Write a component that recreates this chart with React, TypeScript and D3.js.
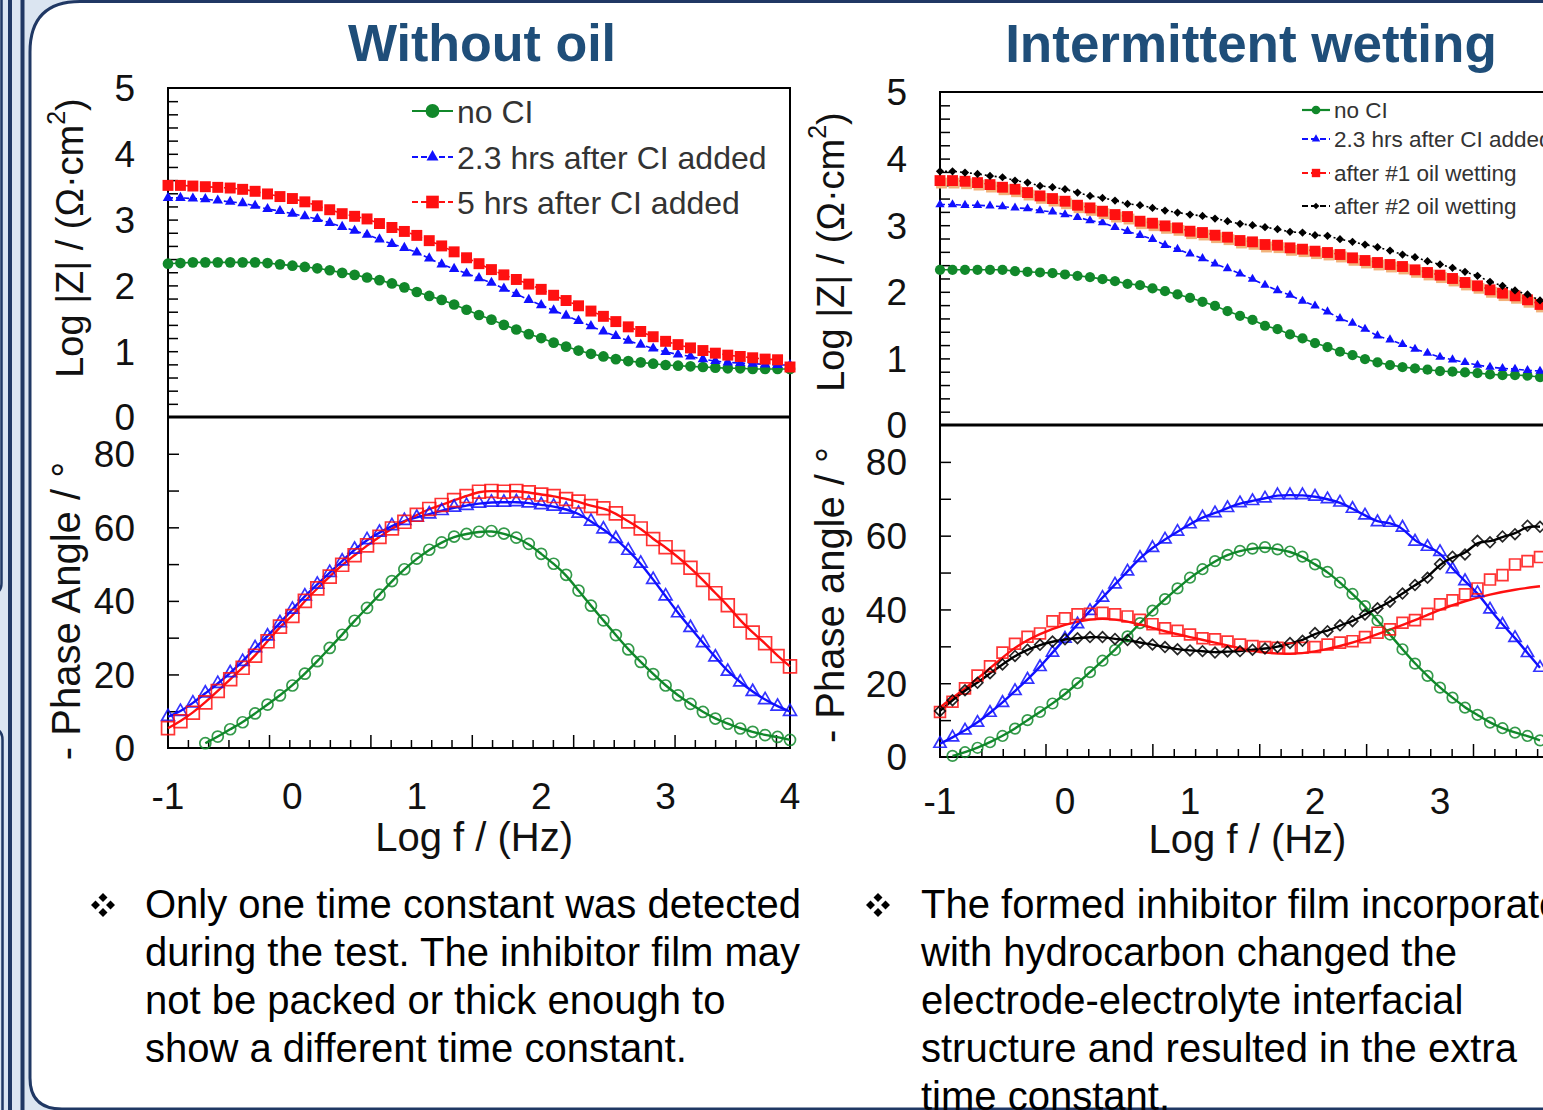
import React, { useEffect, useRef } from "react";
import * as d3 from "d3";

const W = 1543;
const H = 1110;
const NAVY = "#203864";
const SKY = "#dbe5f1";
const TITLE_BLUE = "#1f4e79";
const FONT = "'Liberation Sans', Arial, sans-serif";
const GREEN = "#11882a";
const BLUE = "#1010ff";
const RED = "#ff1010";
const BLACK = "#000000";

// log10 of the measurement frequency
const LOG_F = [
    -1.0, -0.9, -0.8, -0.7, -0.6, -0.5, -0.4, -0.3, -0.2, -0.1,
    0.0, 0.1, 0.2, 0.3, 0.4, 0.5, 0.6, 0.7, 0.8, 0.9,
    1.0, 1.1, 1.2, 1.3, 1.4, 1.5, 1.6, 1.7, 1.8, 1.9,
    2.0, 2.1, 2.2, 2.3, 2.4, 2.5, 2.6, 2.7, 2.8, 2.9,
    3.0, 3.1, 3.2, 3.3, 3.4, 3.5, 3.6, 3.7, 3.8, 3.9, 4.0,
];

// ---- Without oil: Log |Z|
const WO_Z_NOCI = [
    2.33, 2.34, 2.35, 2.35, 2.35, 2.35, 2.35, 2.35, 2.34, 2.32,
    2.30, 2.28, 2.26, 2.23, 2.19, 2.16, 2.12, 2.08, 2.03, 1.97,
    1.90, 1.84, 1.78, 1.71, 1.63, 1.55, 1.48, 1.40, 1.33, 1.26,
    1.20, 1.13, 1.07, 1.01, 0.96, 0.92, 0.88, 0.85, 0.83, 0.81,
    0.79, 0.78, 0.77, 0.76, 0.75, 0.74, 0.74, 0.73, 0.73, 0.73, 0.73,
];
const WO_Z_23H = [
    3.33, 3.33, 3.32, 3.31, 3.29, 3.27, 3.25, 3.21, 3.16, 3.13,
    3.09, 3.05, 3.01, 2.95, 2.89, 2.83, 2.77, 2.70, 2.63, 2.57,
    2.50, 2.41, 2.32, 2.25, 2.18, 2.11, 2.04, 1.95, 1.87, 1.78,
    1.70, 1.62, 1.54, 1.46, 1.38, 1.30, 1.23, 1.16, 1.10, 1.04,
    0.99, 0.95, 0.92, 0.88, 0.85, 0.83, 0.82, 0.81, 0.80, 0.79, 0.79,
];
const WO_Z_5H = [
    3.52, 3.52, 3.51, 3.50, 3.49, 3.48, 3.46, 3.43, 3.39, 3.35,
    3.32, 3.27, 3.21, 3.15, 3.09, 3.05, 3.01, 2.94, 2.88, 2.82,
    2.76, 2.68, 2.60, 2.51, 2.42, 2.33, 2.24, 2.16, 2.09, 2.02,
    1.94, 1.85, 1.77, 1.69, 1.61, 1.53, 1.45, 1.37, 1.30, 1.22,
    1.15, 1.10, 1.05, 1.01, 0.97, 0.94, 0.92, 0.90, 0.88, 0.87, 0.76,
];

// ---- Without oil: - phase angle
const WO_P_NOCI = [
    null, null, null, 1.3, 3.1, 5.1, 7.0, 9.4, 11.8, 14.3,
    17.0, 20.2, 23.6, 27.2, 30.8, 34.6, 38.1, 41.7, 45.4, 48.6,
    51.5, 53.9, 55.9, 57.5, 58.2, 58.8, 59.0, 58.3, 57.2, 55.5,
    52.8, 50.1, 47.1, 42.8, 38.7, 34.7, 30.7, 26.8, 23.4, 20.1,
    17.0, 14.3, 12.0, 9.8, 8.0, 6.6, 5.3, 4.4, 3.5, 3.0, 2.2,
];
const WO_P_23H = [
    8.5, 9.9, 12.2, 14.9, 17.5, 20.4, 23.5, 27.2, 30.4, 34.0,
    37.7, 41.3, 44.5, 47.7, 50.8, 54.0, 56.6, 58.6, 60.4, 61.8,
    62.7, 63.6, 64.5, 65.4, 65.9, 66.5, 66.8, 66.8, 66.9, 66.6,
    66.1, 65.7, 64.9, 63.8, 61.6, 59.5, 56.9, 53.7, 50.2, 45.8,
    41.3, 36.7, 32.7, 28.6, 24.7, 20.8, 17.9, 15.3, 13.1, 11.3, 9.9,
];
const WO_P_5H = [
    5.4, 7.3, 9.6, 12.4, 15.5, 18.7, 21.8, 25.1, 29.0, 33.0,
    35.9, 40.0, 43.4, 46.6, 49.8, 52.4, 55.1, 57.4, 59.7, 61.5,
    63.4, 65.0, 66.1, 67.4, 68.5, 69.7, 69.9, 69.7, 69.9, 69.5,
    68.9, 68.5, 67.7, 67.0, 65.8, 65.2, 63.8, 61.6, 59.7, 56.8,
    54.6, 51.9, 49.0, 45.7, 42.1, 38.8, 34.6, 31.4, 28.5, 25.0, 22.2,
];

// ---- Intermittent wetting: Log |Z|  (log f -1 .. 3.8)
const IW_Z_NOCI = [
    2.33, 2.33, 2.33, 2.33, 2.33, 2.33, 2.31, 2.30, 2.29, 2.28,
    2.26, 2.24, 2.22, 2.19, 2.16, 2.12, 2.10, 2.05, 2.01, 1.96,
    1.91, 1.85, 1.79, 1.71, 1.64, 1.58, 1.49, 1.44, 1.36, 1.30,
    1.23, 1.17, 1.10, 1.05, 0.99, 0.94, 0.90, 0.87, 0.85, 0.83,
    0.81, 0.80, 0.79, 0.78, 0.76, 0.75, 0.75, 0.74, 0.72,
];
const IW_Z_23H = [
    3.31, 3.31, 3.30, 3.30, 3.29, 3.28, 3.26, 3.25, 3.22, 3.20,
    3.16, 3.12, 3.07, 3.04, 2.97, 2.91, 2.85, 2.79, 2.70, 2.64,
    2.57, 2.50, 2.42, 2.35, 2.27, 2.19, 2.10, 2.02, 1.95, 1.86,
    1.79, 1.70, 1.60, 1.53, 1.44, 1.34, 1.28, 1.21, 1.14, 1.08,
    1.02, 0.98, 0.94, 0.90, 0.87, 0.85, 0.84, 0.82, 0.81,
];
const IW_Z_OIL1 = [
    3.67, 3.67, 3.66, 3.64, 3.61, 3.57, 3.54, 3.49, 3.44, 3.40,
    3.36, 3.30, 3.26, 3.21, 3.16, 3.13, 3.06, 3.03, 2.99, 2.96,
    2.91, 2.89, 2.85, 2.82, 2.77, 2.75, 2.71, 2.70, 2.66, 2.64,
    2.61, 2.59, 2.56, 2.51, 2.47, 2.44, 2.41, 2.38, 2.33, 2.29,
    2.25, 2.20, 2.14, 2.09, 2.03, 1.98, 1.94, 1.88, 1.81,
];
const IW_Z_OIL2 = [
    3.81, 3.81, 3.79, 3.77, 3.74, 3.72, 3.67, 3.64, 3.59, 3.57,
    3.54, 3.49, 3.44, 3.41, 3.37, 3.32, 3.30, 3.26, 3.22, 3.19,
    3.16, 3.14, 3.10, 3.06, 3.02, 3.00, 2.97, 2.94, 2.90, 2.89,
    2.85, 2.84, 2.79, 2.75, 2.71, 2.67, 2.62, 2.56, 2.52, 2.46,
    2.41, 2.36, 2.30, 2.24, 2.15, 2.09, 2.02, 1.96, 1.87,
];

// ---- Intermittent wetting: - phase angle
const IW_P_NOCI = [
    null, 0.3, 1.3, 2.5, 4.0, 5.7, 7.7, 10.0, 12.2, 14.5,
    17.0, 20.0, 23.0, 26.1, 29.0, 32.7, 36.3, 39.7, 42.8, 45.7,
    48.6, 50.9, 53.1, 54.8, 55.9, 56.5, 56.9, 56.3, 55.7, 54.3,
    52.2, 50.2, 47.3, 44.2, 40.9, 37.0, 33.2, 29.2, 25.3, 22.0,
    18.8, 16.1, 13.4, 11.4, 9.3, 7.8, 6.6, 5.7, 4.5,
];
const IW_P_23H = [
    3.6, 5.3, 7.2, 9.3, 12.0, 14.7, 17.9, 21.0, 24.4, 28.3,
    32.1, 36.0, 39.6, 43.2, 46.8, 50.3, 54.0, 56.7, 59.0, 61.1,
    63.1, 65.0, 66.1, 67.5, 68.8, 69.4, 70.1, 71.0, 71.0, 71.0,
    70.6, 69.9, 69.0, 67.3, 65.5, 63.7, 63.5, 62.2, 58.4, 57.0,
    55.6, 50.9, 47.7, 44.5, 40.0, 35.9, 32.3, 28.2, 24.2,
];
const IW_P_OIL1 = [
    12.2, 15.0, 18.6, 22.1, 24.6, 28.3, 30.7, 32.6, 33.5, 36.8,
    37.6, 38.7, 38.8, 39.1, 38.7, 38.1, 37.2, 36.0, 34.9, 34.2,
    33.2, 32.2, 31.9, 31.3, 30.5, 30.1, 29.8, 29.6, 29.4, 29.6,
    29.8, 30.5, 31.0, 31.4, 32.5, 33.7, 34.6, 36.4, 37.1, 38.8,
    41.4, 42.5, 44.1, 45.7, 48.1, 49.3, 52.2, 53.1, 54.2,
];
const IW_P_OIL2 = [
    12.5, 15.4, 18.1, 20.1, 22.7, 25.1, 27.4, 29.1, 30.4, 31.3,
    31.9, 32.2, 32.5, 32.5, 32.0, 31.7, 31.0, 30.5, 29.8, 29.2,
    28.9, 28.7, 28.3, 28.6, 28.7, 29.1, 29.4, 29.8, 30.9, 31.5,
    33.6, 34.1, 35.7, 36.8, 38.6, 40.3, 42.1, 44.3, 46.6, 48.6,
    52.3, 54.3, 54.9, 58.6, 58.2, 59.8, 60.4, 62.7, 62.4,
];
// fitted curve for "after #1 oil wetting" (differs from the points)
const IW_FIT_OIL1_F = [
    -1.0, -0.8, -0.6, -0.4, -0.2, 0.0, 0.2, 0.4, 0.6, 0.8, 1.0, 1.2, 1.4,
    1.6, 1.8, 2.0, 2.2, 2.4, 2.6, 2.8, 3.0, 3.2, 3.4, 3.6, 3.8,
];
const IW_FIT_OIL1 = [
    13.5, 18.5, 24.0, 30.0, 33.5, 36.0, 37.5, 37.5, 36.0, 34.0, 32.5, 31.0, 29.5,
    28.2, 27.8, 28.5, 30.0, 32.0, 34.5, 37.0, 40.0, 42.3, 44.1, 45.4, 46.3,
];

const X_TICK_LABELS = [-1, 0, 1, 2, 3, 4];
const Z_TICK_LABELS = [0, 1, 2, 3, 4, 5];
const P_TICK_LABELS = [0, 20, 40, 60, 80];

const LEFT_TEXT = [
    "Only one time constant was detected",
    "during the test. The inhibitor film may",
    "not be packed or thick enough to",
    "show a different time constant.",
];
const RIGHT_TEXT = [
    "The formed inhibitor film incorporated",
    "with hydrocarbon changed the",
    "electrode-electrolyte interfacial",
    "structure and resulted in the extra",
    "time constant.",
];

type Shape = "circle" | "triangle" | "square" | "diamond";
interface Series {
    label: string;
    v: (number | null)[];
    color: string;
    shape: Shape;
    dash: string | null;
    fit?: { f: number[]; v: number[] };
}

const symbolOf = (shape: Shape, size: number) => {
    const type =
        shape === "circle" ? d3.symbolCircle :
        shape === "triangle" ? d3.symbolTriangle : d3.symbolSquare;
    return d3.symbol().type(type).size(size)() as string;
};

interface PanelCfg {
    title: string;
    titleX: number;
    titleY: number;
    titleSize: number;
    xRange: [number, number];
    zRange: [number, number];
    pRange: [number, number];
    frameRight: number;
    minorStep: number;
    yLabelX: number;
    xLabelY: number;
    xTitleY: number;
    zTitle: [number, number];
    pTitle: [number, number];
    pTitleText: string;
    zSeries: Series[];
    pSeries: Series[];
    zSizes: Record<Shape, number>;
    pSizes: Record<Shape, number>;
    legend: { x0: number; x1: number; textX: number; rows: number[]; font: number; sizes: Record<Shape, number> };
    oilShadow: boolean;
}

const App: React.FC = () => {
    const svgRef = useRef<SVGSVGElement | null>(null);

    useEffect(() => {
        if (!svgRef.current) return;
        const svg = d3.select(svgRef.current);
        svg.selectAll("*").remove();

        // slide background + frame
        svg.append("rect").attr("width", W).attr("height", H).attr("fill", SKY);
        svg.append("rect").attr("x", 8).attr("y", 0).attr("width", 4).attr("height", H).attr("fill", NAVY);
        svg.append("rect").attr("x", 20.5).attr("y", 0).attr("width", 4).attr("height", H).attr("fill", NAVY);
        svg.append("path")
            .attr("d", "M -10 -5 L 1.5 -5 L 1.5 583 Q 1.5 594 -10 594")
            .attr("fill", "none").attr("stroke", NAVY).attr("stroke-width", 2.5);
        svg.append("path")
            .attr("d", "M -10 728 Q 2.5 728 2.5 740 L 2.5 1120")
            .attr("fill", "none").attr("stroke", NAVY).attr("stroke-width", 2.5);
        svg.append("path")
            .attr("d", "M 1600 1.5 L 80 1.5 Q 30 1.5 30 52 L 30 1078 Q 30 1109 62 1109 L 1600 1109 Z")
            .attr("fill", "#ffffff").attr("stroke", NAVY).attr("stroke-width", 3);

        const drawPanel = (c: PanelCfg) => {
            const x = d3.scaleLinear().domain([-1, 4]).range(c.xRange);
            const yZ = d3.scaleLinear().domain([0, 5]).range(c.zRange);
            const yP = d3.scaleLinear().domain([0, 90]).range(c.pRange);
            const left = c.xRange[0];
            const g = svg.append("g");

            g.append("text")
                .attr("x", c.titleX).attr("y", c.titleY)
                .attr("text-anchor", "middle")
                .attr("font-family", FONT).attr("font-weight", "bold")
                .attr("font-size", c.titleSize).attr("fill", TITLE_BLUE)
                .text(c.title);

            // inward y ticks
            const zTicks = d3.range(0.2, 4.9, 0.2);
            g.append("g").attr("transform", `translate(${left},0)`)
                .call(d3.axisRight(yZ).tickValues(zTicks).tickSize(10).tickFormat(() => ""))
                .call(s => s.select(".domain").remove())
                .call(s => s.selectAll("line").attr("stroke-width", 1.5));
            g.append("g").attr("transform", `translate(${left},0)`)
                .call(d3.axisRight(yP).tickValues(d3.range(10, 81, 10)).tickSize(11).tickFormat(() => ""))
                .call(s => s.select(".domain").remove())
                .call(s => s.selectAll("line").attr("stroke-width", 1.5));

            // inward x ticks (minor / major)
            const xt = d3.range(-0.84, 3.95, c.minorStep);
            const major = xt.filter((_, i) => i % 5 === 4);
            const minor = xt.filter((_, i) => i % 5 !== 4);
            g.append("g").attr("transform", `translate(0,${c.pRange[0]})`)
                .call(d3.axisTop(x).tickValues(minor).tickSize(8).tickFormat(() => ""))
                .call(s => s.select(".domain").remove())
                .call(s => s.selectAll("line").attr("stroke-width", 1.5));
            g.append("g").attr("transform", `translate(0,${c.pRange[0]})`)
                .call(d3.axisTop(x).tickValues(major).tickSize(13).tickFormat(() => ""))
                .call(s => s.select(".domain").remove())
                .call(s => s.selectAll("line").attr("stroke-width", 1.5));

            // frame
            const fr = g.append("g").attr("fill", "none").attr("stroke", "#000");
            fr.append("rect")
                .attr("x", left).attr("y", c.zRange[1])
                .attr("width", c.frameRight - left).attr("height", c.pRange[0] - c.zRange[1])
                .attr("stroke-width", 2);
            fr.append("line")
                .attr("x1", left).attr("x2", c.frameRight)
                .attr("y1", c.zRange[0]).attr("y2", c.zRange[0])
                .attr("stroke-width", 3);

            // tick labels
            const lab = g.append("g").attr("font-family", FONT).attr("font-size", 37).attr("fill", "#111");
            Z_TICK_LABELS.forEach(t => lab.append("text")
                .attr("x", c.yLabelX).attr("y", yZ(t)).attr("dy", "0.36em")
                .attr("text-anchor", "end").text(t));
            P_TICK_LABELS.forEach(t => lab.append("text")
                .attr("x", c.yLabelX).attr("y", yP(t)).attr("dy", "0.36em")
                .attr("text-anchor", "end").text(t));
            X_TICK_LABELS.forEach(t => lab.append("text")
                .attr("x", x(t)).attr("y", c.xLabelY)
                .attr("text-anchor", "middle").text(t));

            // axis titles
            g.append("text")
                .attr("x", (c.xRange[0] + x(3.6)) / 2 + 20).attr("y", c.xTitleY)
                .attr("text-anchor", "middle").attr("font-family", FONT)
                .attr("font-size", 40).attr("fill", "#111")
                .text("Log f / (Hz)");
            const zt = g.append("text")
                .attr("transform", `translate(${c.zTitle[0]},${c.zTitle[1]}) rotate(-90)`)
                .attr("text-anchor", "middle").attr("dominant-baseline", "central")
                .attr("font-family", FONT).attr("font-size", 38).attr("fill", "#111");
            zt.append("tspan").text("Log |Z| / (\u03A9\u00B7cm");
            zt.append("tspan").attr("font-size", 25).attr("dy", -14).text("2");
            zt.append("tspan").attr("dy", 14).text(")");
            g.append("text")
                .attr("transform", `translate(${c.pTitle[0]},${c.pTitle[1]}) rotate(-90)`)
                .attr("text-anchor", "middle").attr("dominant-baseline", "central")
                .attr("font-family", FONT).attr("font-size", 40).attr("fill", "#111")
                .text(c.pTitleText);

            const plot = g.append("g");

            // Log |Z| panel: filled markers with thin dashed joins
            c.zSeries.forEach(s => {
                const pts = s.v.map((v, i) => [LOG_F[i], v] as [number, number | null]);
                const line = d3.line<[number, number | null]>()
                    .defined(d => d[1] !== null)
                    .x(d => x(d[0])).y(d => yZ(d[1] as number));
                plot.append("path").datum(pts)
                    .attr("d", line).attr("fill", "none")
                    .attr("stroke", s.color).attr("stroke-width", 1.6)
                    .attr("stroke-dasharray", s.dash ?? null);
                const valid = pts.filter(d => d[1] !== null);
                if (c.oilShadow && s.shape === "square") {
                    plot.selectAll(null).data(valid).enter().append("path")
                        .attr("d", symbolOf("square", c.zSizes.square))
                        .attr("transform", d => `translate(${x(d[0]) + 1.5},${yZ(d[1] as number) + 2.5})`)
                        .attr("fill", "#f2b27a");
                }
                plot.selectAll(null).data(valid).enter().append("path")
                    .attr("d", symbolOf(s.shape, c.zSizes[s.shape]))
                    .attr("transform", d => `translate(${x(d[0])},${yZ(d[1] as number)})${s.shape === "diamond" ? " rotate(45)" : ""}`)
                    .attr("fill", s.color);
            });

            // phase panel: smooth fit lines + open markers
            c.pSeries.forEach(s => {
                const pts = s.v.map((v, i) => [LOG_F[i], v] as [number, number | null])
                    .filter(d => d[1] !== null) as [number, number][];
                const fitPts = s.fit ? s.fit.f.map((f, i) => [f, s.fit!.v[i]] as [number, number]) : pts;
                const line = d3.line<[number, number]>()
                    .curve(d3.curveBasis)
                    .x(d => x(d[0])).y(d => yP(d[1]));
                plot.append("path").datum(fitPts)
                    .attr("d", line).attr("fill", "none")
                    .attr("stroke", s.color).attr("stroke-width", 2.4);
            });
            c.pSeries.forEach(s => {
                const pts = s.v.map((v, i) => [LOG_F[i], v] as [number, number | null])
                    .filter(d => d[1] !== null) as [number, number][];
                plot.selectAll(null).data(pts).enter().append("path")
                    .attr("d", symbolOf(s.shape, c.pSizes[s.shape]))
                    .attr("transform", d => `translate(${x(d[0])},${yP(d[1])})${s.shape === "diamond" ? " rotate(45)" : ""}`)
                    .attr("fill", "none").attr("stroke", s.color)
                    .attr("stroke-opacity", 0.85).attr("stroke-width", 1.7);
            });

            // legend
            const lg = g.append("g");
            c.zSeries.forEach((s, i) => {
                const ly = c.legend.rows[i];
                lg.append("line")
                    .attr("x1", c.legend.x0).attr("x2", c.legend.x1)
                    .attr("y1", ly).attr("y2", ly)
                    .attr("stroke", s.color).attr("stroke-width", 2.2)
                    .attr("stroke-dasharray", s.dash ? "6,3" : null);
                lg.append("path")
                    .attr("d", symbolOf(s.shape, c.legend.sizes[s.shape]))
                    .attr("transform", `translate(${(c.legend.x0 + c.legend.x1) / 2},${ly})${s.shape === "diamond" ? " rotate(45)" : ""}`)
                    .attr("fill", s.color);
                lg.append("text")
                    .attr("x", c.legend.textX).attr("y", ly).attr("dy", "0.36em")
                    .attr("font-family", FONT).attr("font-size", c.legend.font)
                    .attr("fill", "#333").text(s.label);
            });
        };

        drawPanel({
            title: "Without oil",
            titleX: 482, titleY: 61, titleSize: 52,
            xRange: [168, 790],
            zRange: [417, 88],
            pRange: [748, 417],
            frameRight: 790,
            minorStep: 0.163,
            yLabelX: 135,
            xLabelY: 809,
            xTitleY: 851,
            zTitle: [70, 238],
            pTitle: [66, 611],
            pTitleText: "- Phase Angle / \u00B0",
            zSeries: [
                { label: "no CI", v: WO_Z_NOCI, color: GREEN, shape: "circle", dash: null },
                { label: "2.3 hrs after CI added", v: WO_Z_23H, color: BLUE, shape: "triangle", dash: "5,3" },
                { label: "5 hrs after CI added", v: WO_Z_5H, color: RED, shape: "square", dash: "5,3" },
            ],
            pSeries: [
                { label: "no CI", v: WO_P_NOCI, color: GREEN, shape: "circle", dash: null },
                { label: "2.3 hrs", v: WO_P_23H, color: BLUE, shape: "triangle", dash: null },
                { label: "5 hrs", v: WO_P_5H, color: RED, shape: "square", dash: null },
            ],
            zSizes: { circle: 90, triangle: 48, square: 120, diamond: 36 },
            pSizes: { circle: 95, triangle: 72, square: 165, diamond: 64 },
            legend: { x0: 412, x1: 453, textX: 457, rows: [111, 157, 202], font: 32, sizes: { circle: 150, triangle: 62, square: 160, diamond: 40 } },
            oilShadow: false,
        });

        drawPanel({
            title: "Intermittent wetting",
            titleX: 1251, titleY: 62, titleSize: 53,
            xRange: [940, 1565],
            zRange: [425, 92],
            pRange: [757, 425],
            frameRight: 1600,
            minorStep: 0.171,
            yLabelX: 907,
            xLabelY: 814,
            xTitleY: 853,
            zTitle: [831, 252],
            pTitle: [830, 595],
            pTitleText: "- Phase angle / \u00B0",
            zSeries: [
                { label: "no CI", v: IW_Z_NOCI, color: GREEN, shape: "circle", dash: null },
                { label: "2.3 hrs after CI added", v: IW_Z_23H, color: BLUE, shape: "triangle", dash: "5,3" },
                { label: "after #1 oil wetting", v: IW_Z_OIL1, color: RED, shape: "square", dash: "5,3" },
                { label: "after #2 oil wetting", v: IW_Z_OIL2, color: BLACK, shape: "diamond", dash: "2,3" },
            ],
            pSeries: [
                { label: "no CI", v: IW_P_NOCI, color: GREEN, shape: "circle", dash: null },
                { label: "2.3 hrs", v: IW_P_23H, color: BLUE, shape: "triangle", dash: null },
                { label: "oil 1", v: IW_P_OIL1, color: RED, shape: "square", dash: null, fit: { f: IW_FIT_OIL1_F, v: IW_FIT_OIL1 } },
                { label: "oil 2", v: IW_P_OIL2, color: BLACK, shape: "diamond", dash: null },
            ],
            zSizes: { circle: 82, triangle: 38, square: 118, diamond: 34 },
            pSizes: { circle: 87, triangle: 64, square: 118, diamond: 56 },
            legend: { x0: 1302, x1: 1330, textX: 1334, rows: [110, 139, 173, 206], font: 22.5, sizes: { circle: 60, triangle: 30, square: 70, diamond: 22 } },
            oilShadow: true,
        });

        // bullet notes
        const bullet = (cx: number, cy: number) => {
            const b = svg.append("g").attr("fill", "#000");
            [[0, -7.5], [-7.5, 0], [7.5, 0], [0, 7.5]].forEach(([dx, dy]) =>
                b.append("path").attr("d", d3.symbol().type(d3.symbolSquare).size(40)() as string)
                    .attr("transform", `translate(${cx + dx},${cy + dy}) rotate(45)`));
        };
        bullet(103, 905);
        bullet(878, 905);
        const note = (lines: string[], x0: number) => {
            const t = svg.append("g").attr("font-family", FONT).attr("font-size", 40).attr("fill", "#000");
            lines.forEach((l, i) => t.append("text").attr("x", x0).attr("y", 918 + i * 48).text(l));
        };
        note(LEFT_TEXT, 145);
        note(RIGHT_TEXT, 921);
    }, []);

    return (
        <svg
            ref={svgRef}
            width={W}
            height={H}
            style={{ position: "absolute", left: 0, top: 0, display: "block" }}
        />
    );
};

export default App;
